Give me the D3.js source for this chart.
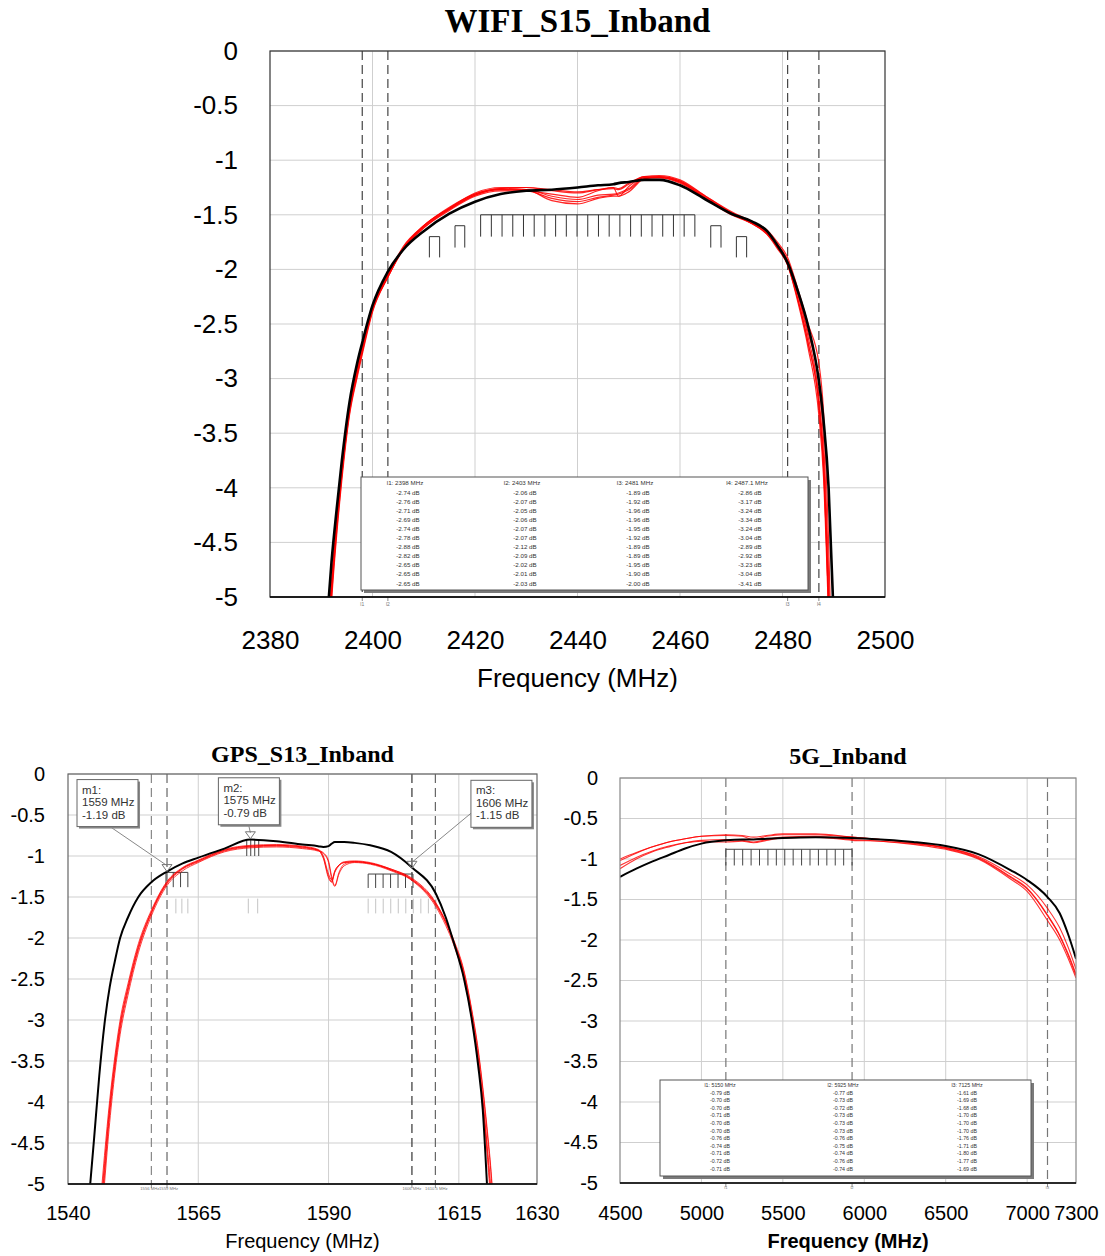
<!DOCTYPE html>
<html>
<head>
  <script src="https://d3js.org/d3.v7.min.js"></script>
  <style>
    body { margin: 0; background: #fff; }
    svg text { font-family: Arial, "Liberation Sans", sans-serif; }
    .title { font-family: "Times New Roman", "Liberation Serif", serif; font-weight: bold; fill: #000; }
  </style>
</head>
<body>
<div id="chart"></div>
<script>
  /*
  DATA
  */
  const yTicks = [0, -0.5, -1, -1.5, -2, -2.5, -3, -3.5, -4, -4.5, -5];
  const yTickLabels = ["0", "-0.5", "-1", "-1.5", "-2", "-2.5", "-3", "-3.5", "-4", "-4.5", "-5"];

  // WIFI_S15_Inband
  const wifiXTicks = [2380, 2400, 2420, 2440, 2460, 2480, 2500];
  const wifiGrid = [2400, 2420, 2440, 2460, 2480];
  const wifiDashed = [2398, 2403, 2481, 2487.1];
  const wifiDashedLabels = ["l1", "l2", "l3", "l4"];
  const wifiFreq = [2391, 2392, 2393, 2394, 2395.5, 2397, 2398, 2400, 2403, 2406, 2410, 2415, 2420, 2425, 2430, 2435,
    2440, 2444, 2447, 2448, 2450, 2453, 2456, 2460, 2465, 2470, 2474, 2477, 2479, 2481, 2483, 2485, 2487.1, 2488, 2489, 2490];
  const wifiBlack = [-5.3, -4.68, -4.2, -3.76, -3.22, -2.86, -2.67, -2.33, -2.02, -1.82, -1.65, -1.49, -1.38, -1.31, -1.28, -1.27,
    -1.25, -1.23, -1.22, -1.21, -1.20, -1.18, -1.18, -1.23, -1.36, -1.49, -1.56, -1.65, -1.78, -1.94, -2.2, -2.52, -3.02, -3.38, -4.0, -5.2];
  const wifiRed1 = [-5.7, -4.95, -4.36, -3.88, -3.3, -2.95, -2.74, -2.36, -2.06, -1.80, -1.60, -1.44, -1.31, -1.26, -1.25, -1.27,
    -1.29, -1.27, -1.26, -1.27, -1.22, -1.15, -1.15, -1.19, -1.33, -1.47, -1.56, -1.64, -1.75, -1.89, -2.18, -2.5, -2.86, -3.3, -4.5, -6.3];
  const wifiRed2 = [-5.8, -5.0, -4.4, -3.9, -3.32, -2.97, -2.76, -2.38, -2.07, -1.81, -1.61, -1.45, -1.32, -1.27, -1.27, -1.33,
    -1.36, -1.32, -1.31, -1.30, -1.26, -1.16, -1.16, -1.20, -1.34, -1.48, -1.57, -1.66, -1.77, -1.92, -2.23, -2.62, -3.17, -3.7, -5.0, -6.6];
  const wifiRed3 = [-5.6, -4.9, -4.31, -3.84, -3.26, -2.91, -2.71, -2.34, -2.05, -1.79, -1.60, -1.43, -1.31, -1.26, -1.27, -1.37,
    -1.40, -1.35, -1.33, -1.33, -1.29, -1.17, -1.15, -1.19, -1.35, -1.50, -1.58, -1.68, -1.80, -1.96, -2.28, -2.68, -3.24, -3.8, -5.1, -6.6];
  const wifiRed4 = [-5.5, -4.85, -4.28, -3.82, -3.24, -2.89, -2.69, -2.33, -2.06, -1.81, -1.62, -1.45, -1.32, -1.27, -1.28, -1.31,
    -1.34, -1.28, -1.25, -1.33, -1.24, -1.16, -1.16, -1.20, -1.35, -1.49, -1.58, -1.68, -1.81, -1.96, -2.3, -2.72, -3.34, -3.9, -5.2, -6.7];
  const wifiRed5 = [-5.7, -4.95, -4.36, -3.88, -3.29, -2.94, -2.74, -2.37, -2.07, -1.82, -1.62, -1.46, -1.33, -1.28, -1.28, -1.35,
    -1.38, -1.34, -1.32, -1.31, -1.27, -1.17, -1.16, -1.21, -1.35, -1.49, -1.58, -1.67, -1.79, -1.95, -2.27, -2.67, -3.24, -3.8, -5.1, -6.6];
  const wifiRed6 = [-5.9, -5.05, -4.44, -3.94, -3.34, -2.99, -2.78, -2.39, -2.07, -1.81, -1.60, -1.44, -1.30, -1.25, -1.25, -1.28,
    -1.30, -1.27, -1.25, -1.26, -1.21, -1.15, -1.14, -1.18, -1.33, -1.48, -1.57, -1.66, -1.77, -1.92, -2.22, -2.58, -3.04, -3.55, -4.8, -6.5];
  const wifiTableHeads = ["l1: 2398 MHz", "l2: 2403 MHz", "l3: 2481 MHz", "l4: 2487.1 MHz"];
  const wifiTableL1 = [-2.74, -2.76, -2.71, -2.69, -2.74, -2.78, -2.88, -2.82, -2.65, -2.65, -2.65];
  const wifiTableL2 = [-2.06, -2.07, -2.05, -2.06, -2.07, -2.07, -2.12, -2.09, -2.02, -2.01, -2.03];
  const wifiTableL3 = [-1.89, -1.92, -1.96, -1.96, -1.95, -1.92, -1.89, -1.89, -1.95, -1.90, -2.00];
  const wifiTableL4 = [-2.86, -3.17, -3.24, -3.34, -3.24, -3.04, -2.89, -2.92, -3.23, -3.04, -3.41];
  // band marker combs: [f0, f1, count, top dB, bottom dB, with top line]
  const wifiCombs = [
    [2421.1, 2462.9, 21, -1.5, -1.7, true],
    [2411.1, 2413.1, 2, -1.7, -1.89, true],
    [2416.1, 2418.0, 2, -1.6, -1.8, true],
    [2466.0, 2468.0, 2, -1.6, -1.8, true],
    [2471.0, 2473.0, 2, -1.7, -1.89, true]
  ];

  // GPS_S13_Inband
  const gpsXTicks = [1540, 1565, 1590, 1615, 1630];
  const gpsGrid = [1565, 1590, 1615];
  const gpsDashed = [1556, 1559, 1606, 1610.5];
  const gpsDashedLabels = ["1556 MHz", "1559 MHz", "1606 MHz", "1610.5 MHz"];
  const gpsFreq = [1544, 1545, 1546, 1547, 1548, 1549, 1550, 1551.5, 1553.5, 1556, 1559, 1562, 1565, 1570, 1575, 1580, 1585, 1588, 1589,
    1590, 1590.6, 1591.2, 1592, 1593, 1595, 1598, 1602, 1606, 1610.6, 1612.5, 1614, 1616, 1617.5, 1618.7, 1619.6, 1620.4, 1621.2, 1622];
  const gpsBlack = [-5.2, -4.45, -3.68, -3.05, -2.6, -2.28, -2.0, -1.75, -1.5, -1.32, -1.19, -1.09, -1.02, -0.91, -0.80, -0.82, -0.86, -0.88, -0.89,
    -0.88, -0.85, -0.83, -0.83, -0.83, -0.84, -0.87, -0.95, -1.14, -1.46, -1.75, -2.05, -2.5, -3.0, -3.55, -4.1, -5.0, -6.0, -7.0];
  const gpsRed1 = [-7, -6.3, -5.5, -4.75, -4.05, -3.5, -3.05, -2.6, -2.1, -1.68, -1.32, -1.15, -1.06, -0.93, -0.88, -0.87, -0.89, -0.93, -1.02,
    -1.25, -1.31, -1.2, -1.12, -1.08, -1.07, -1.09, -1.17, -1.29, -1.6, -1.82, -2.05, -2.45, -2.95, -3.45, -3.95, -4.5, -5.1, -6];
  const gpsRed2 = [-7.2, -6.5, -5.7, -4.9, -4.15, -3.58, -3.12, -2.65, -2.14, -1.7, -1.34, -1.16, -1.07, -0.94, -0.89, -0.88, -0.90, -0.93, -0.96,
    -1.06, -1.25, -1.36, -1.2, -1.1, -1.07, -1.09, -1.16, -1.28, -1.58, -1.8, -2.02, -2.4, -2.88, -3.35, -3.82, -4.3, -4.85, -5.6];
  const gpsRed3 = [-6.9, -6.2, -5.4, -4.65, -3.98, -3.44, -3.0, -2.56, -2.07, -1.66, -1.31, -1.14, -1.05, -0.92, -0.87, -0.86, -0.88, -0.92, -1.0,
    -1.22, -1.29, -1.18, -1.11, -1.07, -1.06, -1.08, -1.16, -1.27, -1.57, -1.8, -2.04, -2.46, -2.98, -3.5, -4.02, -4.62, -5.3, -6.2];
  const gpsRed4 = [-7.3, -6.6, -5.8, -5.0, -4.25, -3.65, -3.18, -2.7, -2.18, -1.73, -1.36, -1.18, -1.08, -0.95, -0.90, -0.89, -0.91, -0.94, -0.97,
    -1.08, -1.28, -1.37, -1.22, -1.12, -1.08, -1.10, -1.18, -1.30, -1.62, -1.85, -2.08, -2.5, -3.0, -3.5, -4.0, -4.55, -5.2, -6.1];
  const gpsRed5 = [-7.1, -6.4, -5.6, -4.82, -4.1, -3.54, -3.08, -2.62, -2.12, -1.69, -1.33, -1.15, -1.06, -0.93, -0.88, -0.87, -0.89, -0.93, -1.03,
    -1.27, -1.32, -1.19, -1.11, -1.08, -1.07, -1.09, -1.17, -1.29, -1.59, -1.81, -2.04, -2.42, -2.9, -3.38, -3.85, -4.35, -4.9, -5.7];
  const gpsMarkerNames = ["m1", "m2", "m3"];
  const gpsMarkerFreq = [1559, 1575, 1606];
  const gpsMarkerDb = [-1.19, -0.79, -1.15];
  const gpsCombs = [
    [1558.8, 1563.0, 4, -1.2, -1.38, true, "#444"],
    [1560.7, 1563.0, 3, -1.52, -1.70, false, "#c4c4c4"],
    [1574.3, 1576.6, 4, -0.80, -1.0, false, "#444"],
    [1574.6, 1576.4, 2, -1.52, -1.70, false, "#c4c4c4"],
    [1597.6, 1606.2, 7, -1.22, -1.39, true, "#444"],
    [1597.6, 1610.6, 10, -1.52, -1.70, false, "#c4c4c4"]
  ];

  // 5G_Inband
  const g5XTicks = [4500, 5000, 5500, 6000, 6500, 7000, 7300];
  const g5Grid = [5000, 5500, 6000, 6500, 7000];
  const g5Dashed = [5150, 5925, 7125];
  const g5DashedLabels = ["l1", "l2", "l3"];
  const g5Freq = [4500, 4600, 4700, 4800, 4900, 5000, 5150, 5250, 5320, 5400, 5500, 5700, 5925, 6100, 6300, 6500, 6700, 6900, 7000, 7125, 7200, 7250, 7300];
  const g5Black = [-1.22, -1.12, -1.03, -0.95, -0.87, -0.81, -0.77, -0.76, -0.76, -0.75, -0.74, -0.73, -0.74, -0.76, -0.79, -0.84, -0.94, -1.14, -1.26, -1.47, -1.67, -1.92, -2.23];
  const g5Red1 = [-1.08, -0.98, -0.90, -0.84, -0.80, -0.78, -0.79, -0.78, -0.80, -0.77, -0.74, -0.73, -0.77, -0.78, -0.81, -0.86, -0.97, -1.19, -1.32, -1.61, -1.85, -2.08, -2.36];
  const g5Red2 = [-1.02, -0.93, -0.85, -0.79, -0.75, -0.72, -0.70, -0.71, -0.73, -0.71, -0.69, -0.69, -0.73, -0.76, -0.80, -0.86, -0.98, -1.22, -1.36, -1.69, -1.94, -2.16, -2.42];
  const g5Red3 = [-1.0, -0.92, -0.85, -0.79, -0.75, -0.72, -0.71, -0.72, -0.76, -0.72, -0.70, -0.70, -0.73, -0.76, -0.80, -0.87, -0.99, -1.23, -1.37, -1.70, -1.95, -2.18, -2.44];
  const g5Red4 = [-1.12, -1.0, -0.91, -0.85, -0.80, -0.77, -0.76, -0.77, -0.79, -0.76, -0.73, -0.72, -0.76, -0.78, -0.82, -0.88, -1.0, -1.25, -1.4, -1.76, -2.0, -2.22, -2.47];
  const g5TableHeads = ["l1: 5150 MHz", "l2: 5925 MHz", "l3: 7125 MHz"];
  const g5TableL1 = [-0.79, -0.70, -0.70, -0.71, -0.70, -0.70, -0.76, -0.74, -0.71, -0.72, -0.71];
  const g5TableL2 = [-0.77, -0.73, -0.72, -0.73, -0.73, -0.73, -0.76, -0.75, -0.74, -0.76, -0.74];
  const g5TableL3 = [-1.61, -1.69, -1.68, -1.70, -1.70, -1.70, -1.76, -1.71, -1.80, -1.77, -1.69];
  const g5Combs = [[5150, 5925, 16, -0.88, -1.08, true, "#444"]];

  /*
  SVG
  */
  const width = 1105, height = 1256;
  const svg = d3.select("#chart").append("svg")
    .attr("width", width).attr("height", height);

  function drawPanel(o) {
    const x = d3.scaleLinear().domain(o.xDomain).range([o.left, o.left + o.width]);
    const y = d3.scaleLinear().domain([0, -5]).range([o.top, o.top + o.height]);
    const g = svg.append("g");
    const bottom = o.top + o.height;

    svg.append("clipPath").attr("id", "clip-" + o.id)
      .append("rect").attr("x", o.left).attr("y", o.top).attr("width", o.width).attr("height", o.height);

    // title
    svg.append("text").attr("class", "title")
      .attr("x", o.left + o.width / 2).attr("y", o.titleY)
      .attr("text-anchor", "middle").attr("font-size", o.titleSize)
      .text(o.title);

    // grid
    g.selectAll(".hgrid").data(yTicks).join("line")
      .attr("x1", o.left).attr("x2", o.left + o.width)
      .attr("y1", d => y(d)).attr("y2", d => y(d))
      .attr("stroke", "#cfcfcf").attr("stroke-width", 1);
    g.selectAll(".vgrid").data(o.grid).join("line")
      .attr("x1", d => x(d)).attr("x2", d => x(d))
      .attr("y1", o.top).attr("y2", bottom)
      .attr("stroke", "#cfcfcf").attr("stroke-width", 1);

    // dashed limit lines
    g.selectAll(".dash").data(o.dashed).join("line")
      .attr("x1", d => x(d)).attr("x2", d => x(d))
      .attr("y1", o.top).attr("y2", bottom)
      .attr("stroke", (d, i) => o.dashColors ? o.dashColors[i] : "#444")
      .attr("stroke-width", 1.2).attr("stroke-dasharray", "9,5");
    g.selectAll(".dashtick").data(o.dashed).join("line")
      .attr("x1", d => x(d)).attr("x2", d => x(d))
      .attr("y1", bottom).attr("y2", bottom + 4)
      .attr("stroke", "#888").attr("stroke-width", 1);
    g.selectAll(".dashlab").data(o.dashed).join("text")
      .attr("x", (d, i) => x(d) + (o.dashLabelShift ? o.dashLabelShift[i] : 0))
      .attr("y", bottom + o.dashLabelDy)
      .attr("text-anchor", (d, i) => o.dashLabelAnchor ? o.dashLabelAnchor[i] : "middle")
      .attr("font-size", o.dashLabelSize)
      .attr("fill", "#777")
      .text((d, i) => o.dashedLabels[i]);

    // marker combs
    o.combs.forEach(c => {
      const xs = d3.range(c[2]).map(i => c[0] + (c[1] - c[0]) * i / (c[2] - 1));
      const col = c[6] || "#333";
      g.selectAll(null).data(xs).join("line")
        .attr("x1", d => x(d)).attr("x2", d => x(d))
        .attr("y1", y(c[3])).attr("y2", y(c[4]))
        .attr("stroke", col).attr("stroke-width", 1);
      if (c[5]) {
        g.append("line")
          .attr("x1", x(c[0])).attr("x2", x(c[1]))
          .attr("y1", y(c[3])).attr("y2", y(c[3]))
          .attr("stroke", col).attr("stroke-width", 1);
      }
    });

    // curves
    const line = d3.line()
      .x(d => x(d[0])).y(d => y(d[1]))
      .curve(d3.curveMonotoneX);
    const curves = g.append("g").attr("clip-path", "url(#clip-" + o.id + ")");
    o.red.forEach(vals => {
      curves.append("path")
        .datum(o.freq.map((f, i) => [f, vals[i]]))
        .attr("d", line).attr("fill", "none")
        .attr("stroke", "#ff0000").attr("stroke-width", o.redWidth).attr("stroke-opacity", o.redOpacity);
    });
    curves.append("path")
      .datum(o.freq.map((f, i) => [f, o.black[i]]))
      .attr("d", line).attr("fill", "none")
      .attr("stroke", "#000").attr("stroke-width", o.blackWidth);

    // frame
    g.append("rect")
      .attr("x", o.left).attr("y", o.top).attr("width", o.width).attr("height", o.height)
      .attr("fill", "none").attr("stroke", o.frameColor).attr("stroke-width", 1.2);
    g.append("line")
      .attr("x1", o.left).attr("x2", o.left + o.width)
      .attr("y1", bottom).attr("y2", bottom)
      .attr("stroke", "#000").attr("stroke-width", 1.5);

    // axes
    const yAxis = svg.append("g")
      .attr("transform", `translate(${o.left},0)`)
      .call(d3.axisLeft(y).tickValues(yTicks)
        .tickFormat((d, i) => yTickLabels[i]).tickSize(0).tickPadding(o.yPad));
    yAxis.select(".domain").remove();
    yAxis.selectAll("text").attr("font-size", o.fontSize).attr("fill", "#000")
      .style("font-family", "Arial, 'Liberation Sans', sans-serif");

    const xAxis = svg.append("g")
      .attr("transform", `translate(0,${bottom})`)
      .call(d3.axisBottom(x).tickValues(o.xTicks)
        .tickFormat(d => String(d)).tickSize(0).tickPadding(o.xPad));
    xAxis.select(".domain").remove();
    xAxis.selectAll("text").attr("font-size", o.fontSize).attr("fill", "#000")
      .style("font-family", "Arial, 'Liberation Sans', sans-serif");

    svg.append("text")
      .attr("x", o.left + o.width / 2).attr("y", o.labelY)
      .attr("text-anchor", "middle").attr("font-size", o.labelSize)
      .attr("font-weight", o.labelBold ? "bold" : "normal")
      .text("Frequency (MHz)");

    return { x: x, y: y };
  }

  function drawTable(t) {
    svg.append("rect").attr("x", t.x + 3).attr("y", t.y + 3).attr("width", t.w).attr("height", t.h)
      .attr("fill", "#7a7a7a");
    svg.append("rect").attr("x", t.x).attr("y", t.y).attr("width", t.w).attr("height", t.h)
      .attr("fill", "#fff").attr("stroke", "#555").attr("stroke-width", 1);
    t.heads.forEach((h, c) => {
      const cx = t.x + t.colX[c];
      svg.append("text").attr("x", cx).attr("y", t.y + t.headDy)
        .attr("text-anchor", "middle").attr("font-size", t.fontSize).attr("fill", "#333")
        .text(h);
      svg.selectAll(null).data(t.cols[c]).join("text")
        .attr("x", cx + t.valDx).attr("y", (d, i) => t.y + t.rowDy + i * t.rowStep)
        .attr("text-anchor", "middle").attr("font-size", t.fontSize).attr("fill", "#333")
        .text(d => d.toFixed(2) + " dB");
    });
  }

  /*
  WIFI PANEL
  */
  drawPanel({
    id: "wifi", title: "WIFI_S15_Inband", titleY: 32, titleSize: 33,
    left: 270, top: 51, width: 615, height: 546,
    xDomain: [2380, 2500], xTicks: wifiXTicks, grid: wifiGrid,
    dashed: wifiDashed, dashedLabels: wifiDashedLabels, dashLabelDy: 9, dashLabelSize: 5,
    combs: wifiCombs, freq: wifiFreq, black: wifiBlack,
    red: [wifiRed1, wifiRed2, wifiRed3, wifiRed4, wifiRed5, wifiRed6],
    redWidth: 1.2, redOpacity: 0.85,
    blackWidth: 2.6, frameColor: "#333",
    fontSize: 26, yPad: 32, xPad: 34, labelY: 687, labelSize: 26, labelBold: false
  });
  drawTable({
    x: 361, y: 477, w: 447, h: 113, colX: [44, 161, 274, 386], valDx: 3,
    headDy: 8, rowDy: 17.5, rowStep: 9.1, fontSize: 6.2,
    heads: wifiTableHeads, cols: [wifiTableL1, wifiTableL2, wifiTableL3, wifiTableL4]
  });

  /*
  GPS PANEL
  */
  const gps = drawPanel({
    id: "gps", title: "GPS_S13_Inband", titleY: 762, titleSize: 24,
    left: 68, top: 774, width: 469, height: 410,
    xDomain: [1540, 1630], xTicks: gpsXTicks, grid: gpsGrid,
    dashed: gpsDashed, dashedLabels: gpsDashedLabels, dashLabelDy: 6, dashLabelSize: 4.2,
    dashLabelAnchor: ["end", "start", "middle", "middle"], dashLabelShift: [8, -8, 0, 1],
    dashColors: ["#888", "#666", "#333", "#666"],
    combs: gpsCombs, freq: gpsFreq, black: gpsBlack,
    red: [gpsRed1, gpsRed2, gpsRed3, gpsRed4, gpsRed5],
    redWidth: 1, redOpacity: 0.75,
    blackWidth: 2, frameColor: "#666",
    fontSize: 20, yPad: 23, xPad: 22, labelY: 1248, labelSize: 20, labelBold: false
  });

  // marker call-outs (box offsets in px from the marker point)
  const boxOffset = [[-90, -92], [-32, -61], [59, -88]];
  const leaderFrom = [[33, 47], [30, 46], [0, 33]];
  gpsMarkerNames.forEach((m, i) => {
    const px = gps.x(gpsMarkerFreq[i]), py = gps.y(gpsMarkerDb[i]);
    const bx = px + boxOffset[i][0], by = py + boxOffset[i][1];
    svg.append("line")
      .attr("x1", bx + leaderFrom[i][0]).attr("y1", by + leaderFrom[i][1])
      .attr("x2", px).attr("y2", py - 6)
      .attr("stroke", "#888").attr("stroke-width", 1);
    svg.append("path")
      .attr("d", `M${px - 5},${py - 7} L${px + 5},${py - 7} L${px},${py} Z`)
      .attr("fill", "none").attr("stroke", "#777").attr("stroke-width", 1);
    svg.append("rect").attr("x", bx + 2).attr("y", by + 2).attr("width", 61).attr("height", 47)
      .attr("fill", "#888");
    svg.append("rect").attr("x", bx).attr("y", by).attr("width", 61).attr("height", 47)
      .attr("fill", "#fff").attr("stroke", "#666").attr("stroke-width", 1);
    const lines = [m + ":", gpsMarkerFreq[i] + " MHz", gpsMarkerDb[i].toFixed(2) + " dB"];
    svg.selectAll(null).data(lines).join("text")
      .attr("x", bx + 5).attr("y", (d, j) => by + 14 + j * 12.5)
      .attr("font-size", 11.5).attr("fill", "#333")
      .text(d => d);
  });

  /*
  5G PANEL
  */
  drawPanel({
    id: "g5", title: "5G_Inband", titleY: 764, titleSize: 24,
    left: 620, top: 778, width: 456, height: 405,
    xDomain: [4500, 7300], xTicks: g5XTicks, grid: g5Grid,
    dashed: g5Dashed, dashedLabels: g5DashedLabels, dashLabelDy: 6, dashLabelSize: 4.2,
    dashColors: ["#777", "#777", "#777"],
    combs: g5Combs, freq: g5Freq, black: g5Black,
    red: [g5Red1, g5Red2, g5Red3, g5Red4],
    redWidth: 1.1, redOpacity: 0.8,
    blackWidth: 2, frameColor: "#888",
    fontSize: 20, yPad: 22, xPad: 23, labelY: 1248, labelSize: 20, labelBold: true
  });
  drawTable({
    x: 660, y: 1080, w: 371, h: 96, colX: [60, 183, 307], valDx: 0,
    headDy: 7, rowDy: 14.5, rowStep: 7.6, fontSize: 5.3,
    heads: g5TableHeads, cols: [g5TableL1, g5TableL2, g5TableL3]
  });
</script>
</body>
</html>
